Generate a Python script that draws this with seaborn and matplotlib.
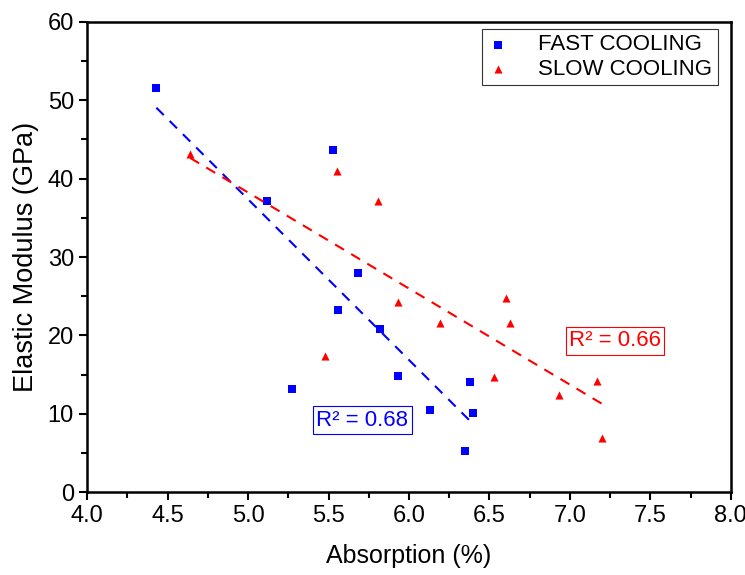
# libraries
import numpy as np
import pandas as pd
import matplotlib
matplotlib.use('Agg')
import matplotlib.pyplot as plt
from matplotlib.ticker import MultipleLocator, FormatStrFormatter
import seaborn as sns

# data
fast_absorption = [4.43, 5.12, 5.53, 5.68, 5.56, 5.82, 5.27, 5.93, 6.13, 6.38, 6.40, 6.35]
fast_modulus = [51.5, 37.2, 43.6, 28.0, 23.2, 20.8, 13.2, 14.8, 10.5, 14.0, 10.1, 5.2]
slow_absorption = [4.64, 5.55, 5.81, 5.93, 6.19, 5.48, 6.60, 6.63, 6.53, 6.93, 7.17, 7.20]
slow_modulus = [43.1, 41.0, 37.1, 24.3, 21.6, 17.4, 24.8, 21.6, 14.7, 12.4, 14.2, 6.9]
r2_labels = ['R² = 0.68', 'R² = 0.66']

fast = pd.DataFrame({'Absorption': fast_absorption, 'Modulus': fast_modulus})
slow = pd.DataFrame({'Absorption': slow_absorption, 'Modulus': slow_modulus})

sns.set_style('ticks')
plt.rcParams['font.family'] = ['Liberation Sans', 'DejaVu Sans']
plt.rcParams['text.color'] = 'black'
plt.rcParams['axes.labelcolor'] = 'black'
plt.rcParams['xtick.color'] = 'black'
plt.rcParams['ytick.color'] = 'black'

fig = plt.figure(figsize=(7.45, 5.75), dpi=100)
ax = fig.add_axes([0.117, 0.144, 0.864, 0.818])

# scatter points
sns.scatterplot(data=fast, x='Absorption', y='Modulus', marker='s', color='#0000ff',
                s=28, linewidth=0, ax=ax, label='FAST COOLING')
sns.scatterplot(data=slow, x='Absorption', y='Modulus', marker='^', color='#ff0000',
                s=34, linewidth=0, ax=ax, label='SLOW COOLING')

# linear fits
sns.regplot(data=fast, x='Absorption', y='Modulus', scatter=False, ci=None, truncate=True,
            color='#0000ff', line_kws={'linestyle': (0, (5, 4)), 'linewidth': 1.5}, ax=ax)
sns.regplot(data=slow, x='Absorption', y='Modulus', scatter=False, ci=None, truncate=True,
            color='#ff0000', line_kws={'linestyle': (0, (5, 4)), 'linewidth': 1.5}, ax=ax)

# R² boxes
ax.text(5.71, 9.2, r2_labels[0], color='#0000ff', fontsize=16, ha='center', va='center',
        bbox=dict(boxstyle='square,pad=0.15', fc='white', ec='#0000ff', lw=0.8))
ax.text(7.28, 19.3, r2_labels[1], color='#ff0000', fontsize=16, ha='center', va='center',
        bbox=dict(boxstyle='square,pad=0.15', fc='white', ec='#ff0000', lw=0.8))

# axes
ax.set_xlim(4.0, 8.0)
ax.set_ylim(0, 60)
ax.xaxis.set_major_locator(MultipleLocator(0.5))
ax.xaxis.set_minor_locator(MultipleLocator(0.25))
ax.yaxis.set_major_locator(MultipleLocator(10))
ax.yaxis.set_minor_locator(MultipleLocator(5))
ax.xaxis.set_major_formatter(FormatStrFormatter('%.1f'))
ax.tick_params(which='major', direction='out', length=6, width=1.5, labelsize=17)
ax.tick_params(which='minor', direction='out', length=4, width=1.5)
for sp in ax.spines.values():
    sp.set_visible(True)
    sp.set_linewidth(1.8)
    sp.set_color('black')
ax.set_xlabel('Absorption (%)', fontsize=18, labelpad=12)
ax.set_ylabel('Elastic Modulus (GPa)', fontsize=19.5, labelpad=6)

leg = ax.legend(loc='upper right', fontsize=16, frameon=True, fancybox=False,
                edgecolor='black', handlelength=1.0, handletextpad=1.3, borderpad=0.25,
                labelspacing=0.15, borderaxespad=0, bbox_to_anchor=(0.98, 0.985))
leg.get_frame().set_linewidth(0.8)

fig.savefig('out.png', dpi=100)
